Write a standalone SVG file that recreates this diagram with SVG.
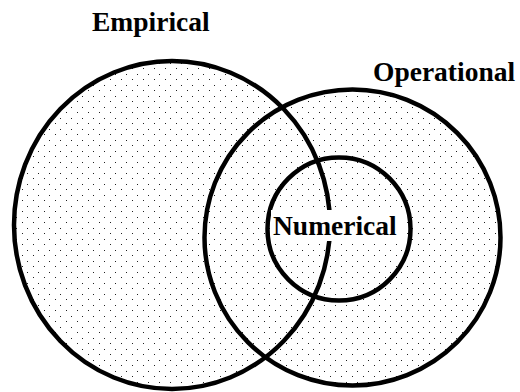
<svg xmlns="http://www.w3.org/2000/svg" width="520" height="392" viewBox="0 0 520 392">
  <defs>
    <!-- staggered dot stipple used to fill every set -->
    <pattern id="stipple" patternUnits="userSpaceOnUse" x="0" y="0" width="11" height="11">
      <rect x="0" y="2" width="1" height="1" fill="#222"/>
      <rect x="5" y="8" width="1" height="1" fill="#222"/>
    </pattern>
    <style>
      .fill { fill: url(#stipple); stroke: none; }
      .ring { fill: none; stroke: #000; stroke-width: 4.5; }
      .label { font-family: "Liberation Serif", "Times New Roman", serif; font-weight: bold; font-size: 27.5px; fill: #000; }
    </style>
  </defs>
  <rect width="520" height="392" fill="#fff"/>

  <!-- stipple fills of the three sets -->
  <g id="fills">
    <ellipse class="fill" cx="172" cy="225" rx="158" ry="164"/>
    <circle class="fill" cx="352.5" cy="237.5" r="148"/>
    <circle class="fill" cx="339" cy="229" r="71.5"/>
  </g>

  <g id="empirical">
    <ellipse class="ring" cx="172" cy="225" rx="158" ry="164"/>
    <text class="label" x="92" y="31">Empirical</text>
  </g>

  <g id="operational">
    <circle class="ring" cx="352.5" cy="237.5" r="148"/>
    <text class="label" x="373" y="81">Operational</text>
  </g>

  <g id="numerical">
    <circle class="ring" cx="339" cy="229" r="71.5"/>
    <rect x="271" y="210" width="131" height="31" fill="#fff"/>
    <text class="label" x="273" y="235">Numerical</text>
  </g>
</svg>
